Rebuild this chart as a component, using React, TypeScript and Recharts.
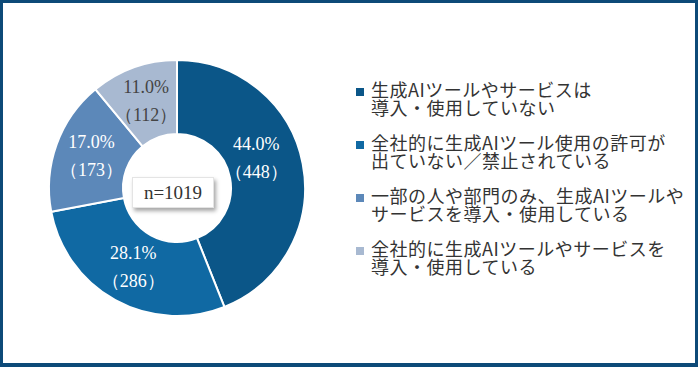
import React from 'react';
import { PieChart, Pie, Cell, Legend } from 'recharts';

// survey answers, clockwise from 12 o'clock
const categories = [
  '生成AIツールやサービスは\n導入・使用していない',
  '全社的に生成AIツール使用の許可が\n出ていない／禁止されている',
  '一部の人や部門のみ、生成AIツールや\nサービスを導入・使用している',
  '全社的に生成AIツールやサービスを\n導入・使用している',
];
const percents = [44.0, 28.1, 17.0, 11.0];
const counts = [448, 286, 173, 112];
const sampleSize = 1019;

const colors = ['#0b5688', '#1069a3', '#5c88b9', '#a8b9d1'];
const labelColors = ['#ffffff', '#ffffff', '#ffffff', '#444444'];
// the big slice's label sits a little up and in from the slice middle
const labelNudge = [
  [-10, -12],
  [0, 0],
  [0, 0],
  [0, 0],
];

const data = categories.map((name, i) => ({
  name,
  value: counts[i],
  pct: percents[i],
}));

const RADIAN = Math.PI / 180;
const serif = '"Liberation Serif", "DejaVu Serif", serif';
const jp = '"Noto Sans CJK JP", "Noto Sans", sans-serif';

const renderLabel = (props: any) => {
  const { cx, cy, midAngle, innerRadius, outerRadius, index } = props;
  const r = (innerRadius + outerRadius) / 2;
  const x = cx + r * Math.cos(-midAngle * RADIAN) + labelNudge[index][0];
  const y = cy + r * Math.sin(-midAngle * RADIAN) + labelNudge[index][1];
  return (
    <text
      x={x}
      y={y}
      textAnchor="middle"
      fill={labelColors[index]}
      fontFamily={serif}
      fontSize={18}
    >
      <tspan x={x} dy={-9}>{percents[index].toFixed(1)}%</tspan>
      <tspan x={x} dy={28}>（{counts[index]}）</tspan>
    </text>
  );
};

const LegendContent = () => (
  <div style={{ fontFamily: jp, fontSize: 18, color: '#333', letterSpacing: 0.5 }}>
    {data.map((d, i) => (
      <div key={d.name} style={{ display: 'flex', alignItems: 'flex-start', marginBottom: 17 }}>
        <span
          style={{
            width: 8,
            height: 8,
            background: colors[i],
            marginTop: 8,
            marginRight: 7,
            flex: 'none',
          }}
        />
        <span style={{ lineHeight: '18px', whiteSpace: 'pre' }}>{d.name}</span>
      </div>
    ))}
  </div>
);

export default function App() {
  return (
    <div
      style={{
        position: 'fixed',
        left: 0,
        top: 0,
        width: 698,
        height: 367,
        boxSizing: 'border-box',
        border: '3px solid #0d4a78',
        borderBottomWidth: 4,
        background: '#fff',
      }}
    >
      <PieChart width={692} height={360} margin={{ top: 0, right: 0, bottom: 0, left: 0 }}>
        <Pie
          data={data}
          dataKey="value"
          cx={174}
          cy={185}
          innerRadius={54}
          outerRadius={128}
          startAngle={90}
          endAngle={-270}
          stroke="#ffffff"
          strokeWidth={2}
          label={renderLabel}
          labelLine={false}
          isAnimationActive={false}
        >
          {data.map((d, i) => (
            <Cell key={d.name} fill={colors[i]} />
          ))}
        </Pie>
        <Legend
          layout="vertical"
          content={<LegendContent />}
          wrapperStyle={{ left: 353, top: 77, width: 340 }}
        />
      </PieChart>
      <div
        style={{
          position: 'absolute',
          left: 129,
          top: 174,
          width: 80,
          height: 29,
          background: '#fff',
          boxShadow: '2px 3px 4px rgba(0,0,0,0.35)',
          border: '1px solid #e4e4e4',
          display: 'flex',
          alignItems: 'center',
          justifyContent: 'center',
          fontFamily: serif,
          fontSize: 19,
          color: '#333',
        }}
      >
        n={sampleSize}
      </div>
    </div>
  );
}
